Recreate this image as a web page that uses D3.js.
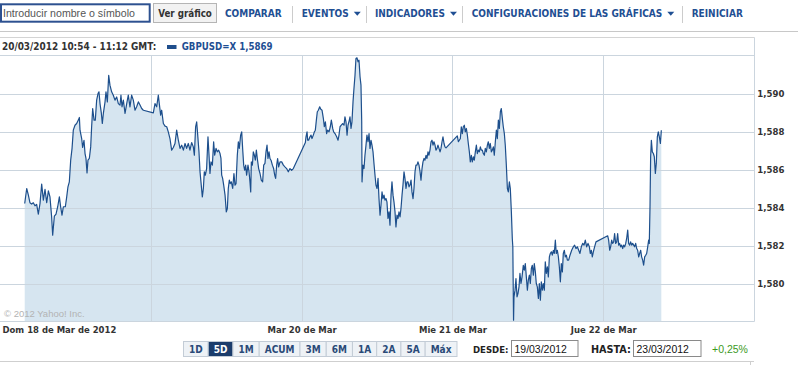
<!DOCTYPE html>
<html><head><meta charset="utf-8">
<script src="https://cdnjs.cloudflare.com/ajax/libs/d3/7.8.5/d3.min.js"></script>
<style>
html,body{margin:0;padding:0;background:#fff;}
svg{display:block;}
.cond{font-family:'DejaVu Sans Condensed','DejaVu Sans',sans-serif;font-stretch:condensed;}
.ar{font-family:'Liberation Sans',Arial,sans-serif;}
</style></head><body>
<svg id="c" width="806" height="365"></svg>
<script>
// ---------- DATA (minutes after 18/03/2012 00:00 GMT, GBPUSD rate) ----------
const sessionSun18 = [[236,1.58421],[255,1.58500],[271,1.58465],[286,1.58425],[302,1.58418],[318,1.58425],[334,1.58409],[350,1.58416],[366,1.58365],[382,1.58421],[398,1.58523],[414,1.58439],[430,1.58495],[446,1.58425],[462,1.58488],[477,1.58456],[493,1.58351],[503,1.58254],[519,1.58354],[535,1.58365],[551,1.58404],[567,1.58456],[579,1.58404],[592,1.58360],[605,1.58404],[624,1.58404],[637,1.58456],[649,1.58509],[662,1.58535],[675,1.58649],[688,1.58711],[700,1.58807],[716,1.58833],[732,1.58842],[748,1.58860],[758,1.58874],[764,1.58807],[780,1.58763],[789,1.58716],[802,1.58754],[812,1.58684],[821,1.58658],[831,1.58582],[840,1.58649],[853,1.58658],[866,1.58719],[875,1.58825],[885,1.58921],[898,1.58860],[910,1.58860],[923,1.58965],[936,1.59000],[945,1.59009],[955,1.58947],[968,1.58895],[977,1.58842],[987,1.58895],[1003,1.58956],[1012,1.59009],[1025,1.58956],[1038,1.59096],[1050,1.59044],[1066,1.59009],[1082,1.58991],[1098,1.58965],[1114,1.58982],[1130,1.58947],[1146,1.58939],[1155,1.58991],[1165,1.58930],[1178,1.58965],[1194,1.58895],[1210,1.58947],[1225,1.58991],[1241,1.58930],[1257,1.58991],[1273,1.58965],[1289,1.58912],[1305,1.58930],[1321,1.58956],[1337,1.58939],[1353,1.58921],[1369,1.58912]];
const sessionMon19 = [[1464,1.58898],[1480,1.58947],[1496,1.58930],[1512,1.58991],[1521,1.58947],[1534,1.58886],[1544,1.58912],[1560,1.58842],[1576,1.58828],[1592,1.58825],[1607,1.58798],[1623,1.58763],[1639,1.58702],[1655,1.58716],[1671,1.58737],[1687,1.58807],[1703,1.58754],[1719,1.58711],[1735,1.58728],[1751,1.58702],[1767,1.58737],[1782,1.58711],[1798,1.58737],[1814,1.58702],[1830,1.58742],[1846,1.58719],[1856,1.58675],[1868,1.58825],[1878,1.58851],[1888,1.58781],[1900,1.58693],[1910,1.58588],[1919,1.58535],[1932,1.58456],[1942,1.58500],[1951,1.58588],[1961,1.58570],[1973,1.58605],[1986,1.58772],[1996,1.58675],[2005,1.58579],[2015,1.58640],[2028,1.58623],[2040,1.58746],[2050,1.58675],[2063,1.58711],[2075,1.58693],[2088,1.58702],[2101,1.58684],[2110,1.58658],[2117,1.58570],[2126,1.58553],[2136,1.58518],[2149,1.58465],[2161,1.58377],[2171,1.58395],[2180,1.58500],[2190,1.58544],[2199,1.58526],[2209,1.58535],[2222,1.58500],[2234,1.58579],[2244,1.58518],[2254,1.58526],[2266,1.58675],[2276,1.58746],[2285,1.58711],[2298,1.58781],[2308,1.58798],[2317,1.58711],[2327,1.58623],[2336,1.58596],[2346,1.58623],[2355,1.58570],[2368,1.58623],[2378,1.58588],[2387,1.58535],[2394,1.58482],[2400,1.58640],[2410,1.58623],[2419,1.58693],[2429,1.58675],[2438,1.58649],[2448,1.58702],[2457,1.58658],[2470,1.58605],[2483,1.58579],[2495,1.58544],[2508,1.58535],[2518,1.58623],[2530,1.58632],[2540,1.58693],[2550,1.58728],[2559,1.58658],[2569,1.58693],[2578,1.58658],[2588,1.58649],[2601,1.58623],[2613,1.58605],[2623,1.58570],[2632,1.58553],[2642,1.58623],[2651,1.58658],[2661,1.58614],[2674,1.58640],[2690,1.58640],[2706,1.58623],[2721,1.58614],[2737,1.58605],[2753,1.58588],[2769,1.58605],[2785,1.58596],[2801,1.58605]];
const sessionTue20 = [[2916,1.58742],[2922,1.58772],[2932,1.58798],[2938,1.58754],[2947,1.58754],[2960,1.58772],[2970,1.58781],[2979,1.58763],[2992,1.58781],[3002,1.58798],[3011,1.58807],[3021,1.58860],[3030,1.58904],[3040,1.58912],[3053,1.58930],[3062,1.58918],[3075,1.58912],[3088,1.58868],[3097,1.58825],[3107,1.58851],[3119,1.58789],[3129,1.58807],[3142,1.58798],[3154,1.58825],[3164,1.58860],[3177,1.58816],[3186,1.58798],[3199,1.58789],[3215,1.58772],[3228,1.58754],[3237,1.58781],[3247,1.58825],[3259,1.58833],[3272,1.58842],[3285,1.58833],[3294,1.58877],[3304,1.58851],[3314,1.58781],[3323,1.58833],[3336,1.58860],[3342,1.58877],[3352,1.58816],[3361,1.58851],[3371,1.58956],[3380,1.59026],[3390,1.59096],[3399,1.59184],[3409,1.59188],[3419,1.59167],[3428,1.59175],[3438,1.59088],[3447,1.59044],[3454,1.58851],[3457,1.58535],[3466,1.58623],[3476,1.58605],[3485,1.58675],[3495,1.58728],[3504,1.58781],[3514,1.58746],[3524,1.58789],[3533,1.58711],[3543,1.58754],[3552,1.58728],[3562,1.58693],[3571,1.58632],[3581,1.58570],[3590,1.58518],[3600,1.58500],[3610,1.58553],[3619,1.58447],[3629,1.58360],[3638,1.58412],[3648,1.58482],[3657,1.58447],[3667,1.58465],[3676,1.58439],[3686,1.58447],[3695,1.58430],[3705,1.58342],[3715,1.58377],[3724,1.58307],[3734,1.58465],[3743,1.58535],[3753,1.58465],[3762,1.58430],[3772,1.58377],[3781,1.58298],[3791,1.58360],[3801,1.58342],[3810,1.58377],[3820,1.58351],[3829,1.58395],[3839,1.58465],[3848,1.58518],[3858,1.58588],[3867,1.58553],[3877,1.58500],[3886,1.58535],[3896,1.58535],[3906,1.58509],[3915,1.58518],[3925,1.58544],[3934,1.58482],[3944,1.58447],[3953,1.58500],[3963,1.58588],[3972,1.58623],[3982,1.58623],[3991,1.58640],[4001,1.58623],[4011,1.58588],[4020,1.58544],[4030,1.58605],[4039,1.58640],[4049,1.58658],[4058,1.58649],[4068,1.58675],[4077,1.58658],[4087,1.58693],[4096,1.58675],[4106,1.58702],[4116,1.58746],[4125,1.58754],[4135,1.58728],[4144,1.58746],[4154,1.58728],[4163,1.58702],[4173,1.58711],[4182,1.58728],[4192,1.58711],[4202,1.58693],[4211,1.58711],[4221,1.58746],[4230,1.58772],[4240,1.58737],[4249,1.58719],[4259,1.58714]];
const sessionWed21 = [[4367,1.58777],[4377,1.58746],[4386,1.58754],[4396,1.58763],[4405,1.58825],[4415,1.58789],[4424,1.58825],[4434,1.58833],[4443,1.58798],[4453,1.58816],[4463,1.58781],[4472,1.58737],[4482,1.58693],[4491,1.58640],[4501,1.58675],[4510,1.58640],[4520,1.58667],[4529,1.58649],[4539,1.58693],[4549,1.58728],[4558,1.58684],[4568,1.58702],[4577,1.58693],[4587,1.58719],[4596,1.58702],[4606,1.58702],[4615,1.58684],[4625,1.58675],[4634,1.58711],[4644,1.58693],[4654,1.58728],[4663,1.58746],[4673,1.58711],[4682,1.58737],[4692,1.58693],[4701,1.58702],[4711,1.58719],[4720,1.58675],[4730,1.58746],[4740,1.58807],[4749,1.58763],[4759,1.58860],[4768,1.58816],[4778,1.58904],[4787,1.58921],[4797,1.58868],[4806,1.58825],[4816,1.58789],[4825,1.58728],[4835,1.58623],[4845,1.58500],[4854,1.58482],[4864,1.58535],[4873,1.58500],[4883,1.58377],[4892,1.58237],[4897,1.58193],[4904,1.57807],[4908,1.57930],[4918,1.57965],[4927,1.58026],[4937,1.57930],[4946,1.57947],[4956,1.57982],[4965,1.58053],[4975,1.58000],[4985,1.58035],[4997,1.58096],[5007,1.58070],[5016,1.58105],[5026,1.58035],[5036,1.57965],[5045,1.58018],[5055,1.58044],[5064,1.58000],[5074,1.58079],[5083,1.58096],[5093,1.58044],[5102,1.58105],[5112,1.58061],[5121,1.58000],[5131,1.57982],[5141,1.57921],[5150,1.58000],[5160,1.57912],[5169,1.58009],[5179,1.57965],[5188,1.58000],[5198,1.57965],[5207,1.58114],[5217,1.58053],[5227,1.58088],[5236,1.58035],[5246,1.58140],[5255,1.58158],[5265,1.58167],[5274,1.58149],[5284,1.58175],[5293,1.58158],[5303,1.58228],[5312,1.58158],[5322,1.58175],[5332,1.58140],[5341,1.58088],[5351,1.58009],[5360,1.58105],[5370,1.58061],[5379,1.58158],[5389,1.58175],[5398,1.58140],[5408,1.58149],[5418,1.58123],[5430,1.58123],[5443,1.58149],[5459,1.58175],[5475,1.58193],[5487,1.58202],[5500,1.58184],[5513,1.58193],[5526,1.58175],[5538,1.58158],[5551,1.58193],[5564,1.58211],[5577,1.58202],[5589,1.58228],[5602,1.58193],[5615,1.58211],[5628,1.58193],[5637,1.58158],[5647,1.58175],[5656,1.58140],[5666,1.58167],[5678,1.58193],[5691,1.58219]];
const sessionThu22 = [[5803,1.58251],[5812,1.58228],[5822,1.58175],[5831,1.58193],[5841,1.58228],[5850,1.58211],[5860,1.58219],[5869,1.58263],[5879,1.58211],[5889,1.58219],[5898,1.58263],[5908,1.58202],[5917,1.58211],[5927,1.58193],[5936,1.58202],[5946,1.58184],[5955,1.58202],[5965,1.58193],[5975,1.58211],[5984,1.58237],[5994,1.58281],[6003,1.58211],[6013,1.58202],[6022,1.58219],[6032,1.58202],[6041,1.58211],[6051,1.58202],[6060,1.58193],[6070,1.58211],[6080,1.58184],[6089,1.58175],[6099,1.58140],[6108,1.58158],[6118,1.58175],[6127,1.58140],[6137,1.58123],[6146,1.58096],[6156,1.58140],[6166,1.58149],[6175,1.58158],[6185,1.58193],[6194,1.58228],[6200,1.58211],[6207,1.58404],[6213,1.58667],[6220,1.58754],[6229,1.58693],[6239,1.58684],[6248,1.58667],[6258,1.58579],[6267,1.58632],[6277,1.58772],[6286,1.58798],[6296,1.58772],[6306,1.58737],[6315,1.58807]];

const gridDays = ["2012-03-19","2012-03-20","2012-03-21","2012-03-22"];
const labelDays = ["2012-03-18","2012-03-20","2012-03-21","2012-03-22"];
const dayLabels = ["Dom 18 de Mar de 2012","Mar 20 de Mar","Mie 21 de Mar","Jue 22 de Mar"];
const yTicks = [1.580,1.582,1.584,1.586,1.588,1.590];
const yDomain = [1.578,1.592];
const xDomain = ["2012-03-18","2012-03-23"];
const ranges = ["1D","5D","1M","ACUM","3M","6M","1A","2A","5A","Máx"];
const selectedRange = "5D";
const navItems = ["COMPARAR","EVENTOS","INDICADORES","CONFIGURACIONES DE LAS GRÁFICAS","REINICIAR"];
const navArrows = [false,true,true,true,false];
const hoverTime = "20/03/2012 10:54 - 11:12 GMT:";
const symbolLabel = "GBPUSD=X 1,5869";
const fromDate = "19/03/2012", toDate = "23/03/2012", change = "+0,25%";

// ---------- DRAWING ----------
const svg = d3.select("#c");
const parseDay = d3.utcParse("%Y-%m-%d");
const t0 = parseDay(xDomain[0]);
const series = [].concat(sessionSun18, sessionMon19, sessionTue20, sessionWed21, sessionThu22)
  .map(([m, v]) => ({t: d3.utcMinute.offset(t0, m), v}));

const P = {left: 0, right: 754, top: 55.5, bottom: 321.5};
const x = d3.scaleUtc().domain(xDomain.map(parseDay)).range([P.left, P.right]);
const y = d3.scaleLinear().domain(yDomain).range([P.bottom, P.top]);

const GRID = "#cbd5de", NAVY = "#1f4f93", TXT = "#333";

// scale a text's font size so that it spans the target width
function fit(sel, target) {
  const w = sel.node().getComputedTextLength();
  if (w > 0) sel.attr("font-size", (+sel.attr("font-size")) * target / w);
  return sel;
}

// toolbar
const tb = svg.append("g");
tb.append("rect").attr("x",1).attr("y",4.3).attr("width",148.7).attr("height",17.4)
  .attr("fill","#fff").attr("stroke","#2d5190").attr("stroke-width",2);
fit(tb.append("text").attr("class","ar").attr("x",3).attr("y",17.3).attr("font-size",11.5)
  .attr("fill","#555").text("Introducir nombre o símbolo"), 132);
tb.append("rect").attr("x",153.5).attr("y",3.5).attr("width",63).attr("height",19)
  .attr("fill","#f2f2f2").attr("stroke","#b5b5b5");
fit(tb.append("text").attr("class","cond").attr("x",185).attr("y",17).attr("text-anchor","middle")
  .attr("font-size",11).attr("font-weight","bold").attr("fill",TXT).text("Ver gráfico"), 53.7);

const navX = [225, 301.7, 375, 471.7, 691.7];
const sepX = [292.5, 366.5, 462.5, 682.5];
navItems.forEach((s, i) => {
  const t = tb.append("text").attr("class","cond").attr("x",navX[i]).attr("y",17.3)
    .attr("font-size",10).attr("font-weight","bold").attr("fill",NAVY).text(s);
  if (navArrows[i]) {
    const e = navX[i] + t.node().getComputedTextLength() + 5;
    tb.append("path").attr("d",`M${e},11.8L${e+7},11.8L${e+3.5},15.8Z`).attr("fill",NAVY);
  }
});
sepX.forEach(sx => tb.append("line").attr("x1",sx).attr("x2",sx).attr("y1",6).attr("y2",23)
  .attr("stroke","#cccccc"));
svg.append("line").attr("x1",0).attr("x2",798).attr("y1",31.5).attr("y2",31.5).attr("stroke","#c8c8c8");
svg.append("line").attr("x1",0).attr("x2",754.5).attr("y1",37.5).attr("y2",37.5).attr("stroke","#d4d4d4");

// header
fit(svg.append("text").attr("class","cond").attr("x",2).attr("y",49.5).attr("font-size",11)
  .attr("font-weight","bold").attr("fill",TXT).text(hoverTime), 154.5);
svg.append("rect").attr("x",167).attr("y",45).attr("width",9.5).attr("height",4).attr("fill","#1f4e8c");
fit(svg.append("text").attr("class","cond").attr("x",181.7).attr("y",49.5).attr("font-size",11)
  .attr("font-weight","bold").attr("fill",NAVY).text(symbolLabel), 91);

// area
const plot = svg.append("g");
plot.append("path").datum(series)
  .attr("d", d3.area().x(d => x(d.t)).y0(P.bottom).y1(d => y(d.v)))
  .attr("fill","#d6e5f0");

// gridlines
plot.append("g").attr("transform",`translate(${P.right},0)`)
  .call(d3.axisLeft(y).tickValues(yTicks).tickSize(P.right - P.left).tickFormat(""))
  .call(g => g.select(".domain").remove())
  .call(g => g.selectAll("line").attr("stroke",GRID).attr("shape-rendering","crispEdges"));
plot.append("g").attr("transform",`translate(0,${P.bottom})`)
  .call(d3.axisBottom(x).tickValues(gridDays.map(parseDay)).tickSize(-(P.bottom - P.top)).tickFormat(""))
  .call(g => g.select(".domain").remove())
  .call(g => g.selectAll("line").attr("stroke",GRID).attr("shape-rendering","crispEdges"));

// line
plot.append("path").datum(series)
  .attr("d", d3.line().x(d => x(d.t)).y(d => y(d.v)))
  .attr("fill","none").attr("stroke","#1d4f8c").attr("stroke-width",1.2).attr("stroke-linejoin","round");

// frame
svg.append("line").attr("x1",0).attr("x2",P.right).attr("y1",P.top).attr("y2",P.top).attr("stroke",GRID);
svg.append("line").attr("x1",0).attr("x2",P.right+0.5).attr("y1",P.bottom).attr("y2",P.bottom).attr("stroke",GRID);
svg.append("line").attr("x1",P.right+0.5).attr("x2",P.right+0.5).attr("y1",37.5).attr("y2",P.bottom).attr("stroke",GRID);

// copyright
svg.append("text").attr("class","ar").attr("x",4).attr("y",316.5).attr("font-size",9.5)
  .attr("fill","#b3b3b3").text("© 2012 Yahoo! Inc.");

// y axis labels
svg.append("g").attr("transform",`translate(${P.right+0.5},0)`)
  .call(d3.axisRight(y).tickValues(yTicks).tickSize(0).tickPadding(2.8)
    .tickFormat(d => d3.format(".3f")(d).replace(".", ",")))
  .call(g => g.select(".domain").remove())
  .call(g => g.selectAll("text").attr("class","cond").attr("font-size",9.5).attr("font-weight","bold")
    .attr("fill",TXT).attr("font-family",null));

// x axis labels
const xl = svg.append("g").attr("transform",`translate(0,${P.bottom})`)
  .call(d3.axisBottom(x).tickValues(labelDays.map(parseDay)).tickSize(0).tickPadding(5)
    .tickFormat((d, i) => dayLabels[i]))
  .call(g => g.select(".domain").remove());
const xt = xl.selectAll("text").attr("class","cond").attr("font-size",10).attr("font-weight","bold")
  .attr("fill",TXT).attr("font-family",null)
  .attr("text-anchor",(d, i) => i === 0 ? "start" : "middle").attr("x",(d, i) => i === 0 ? 2 : 0);
const firstW = xt.nodes()[0].getComputedTextLength();
xt.attr("font-size", 10 * 114 / firstW);

// range buttons
const rb = svg.append("g");
let bx = 183.5;
ranges.forEach(r => {
  const sel = r === selectedRange;
  const t = rb.append("text").attr("class","cond").attr("y",352.5).attr("font-size",10)
    .attr("font-weight","bold").attr("fill", sel ? "#fff" : "#2a4a78").attr("text-anchor","middle").text(r);
  const w = t.node().getComputedTextLength() + 11;
  rb.insert("rect","text").attr("x",bx).attr("y",341.5).attr("width",w).attr("height",15)
    .attr("fill", sel ? "#1b3d6c" : "#eef2f6").attr("stroke","#c3ccd6");
  t.attr("x", bx + w/2);
  bx += w;
});

// date inputs
const di = svg.append("g");
fit(di.append("text").attr("class","cond").attr("x",473).attr("y",352.5).attr("font-size",10.5)
  .attr("font-weight","bold").attr("fill","#222").text("DESDE:"), 35.5);
di.append("rect").attr("x",511.5).attr("y",340.5).attr("width",66.5).attr("height",16).attr("fill","#fff").attr("stroke","#8a8a8a");
fit(di.append("text").attr("class","ar").attr("x",514.5).attr("y",352.5).attr("font-size",10.5).attr("fill","#111").text(fromDate), 52.4);
fit(di.append("text").attr("class","cond").attr("x",591).attr("y",352.5).attr("font-size",10.5)
  .attr("font-weight","bold").attr("fill","#222").text("HASTA:"), 40);
di.append("rect").attr("x",633.5).attr("y",340.5).attr("width",67.5).attr("height",16).attr("fill","#fff").attr("stroke","#8a8a8a");
fit(di.append("text").attr("class","ar").attr("x",636.5).attr("y",352.5).attr("font-size",10.5).attr("fill","#111").text(toDate), 52.4);
fit(di.append("text").attr("class","ar").attr("x",712).attr("y",352.5).attr("font-size",11)
  .attr("fill","#3b9a1e").text(change), 36);

svg.append("line").attr("x1",0).attr("x2",754).attr("y1",361.5).attr("y2",361.5).attr("stroke","#cfcfcf");
svg.append("line").attr("x1",750.5).attr("x2",750.5).attr("y1",361.5).attr("y2",365).attr("stroke","#cfcfcf");
</script>
</body></html>
